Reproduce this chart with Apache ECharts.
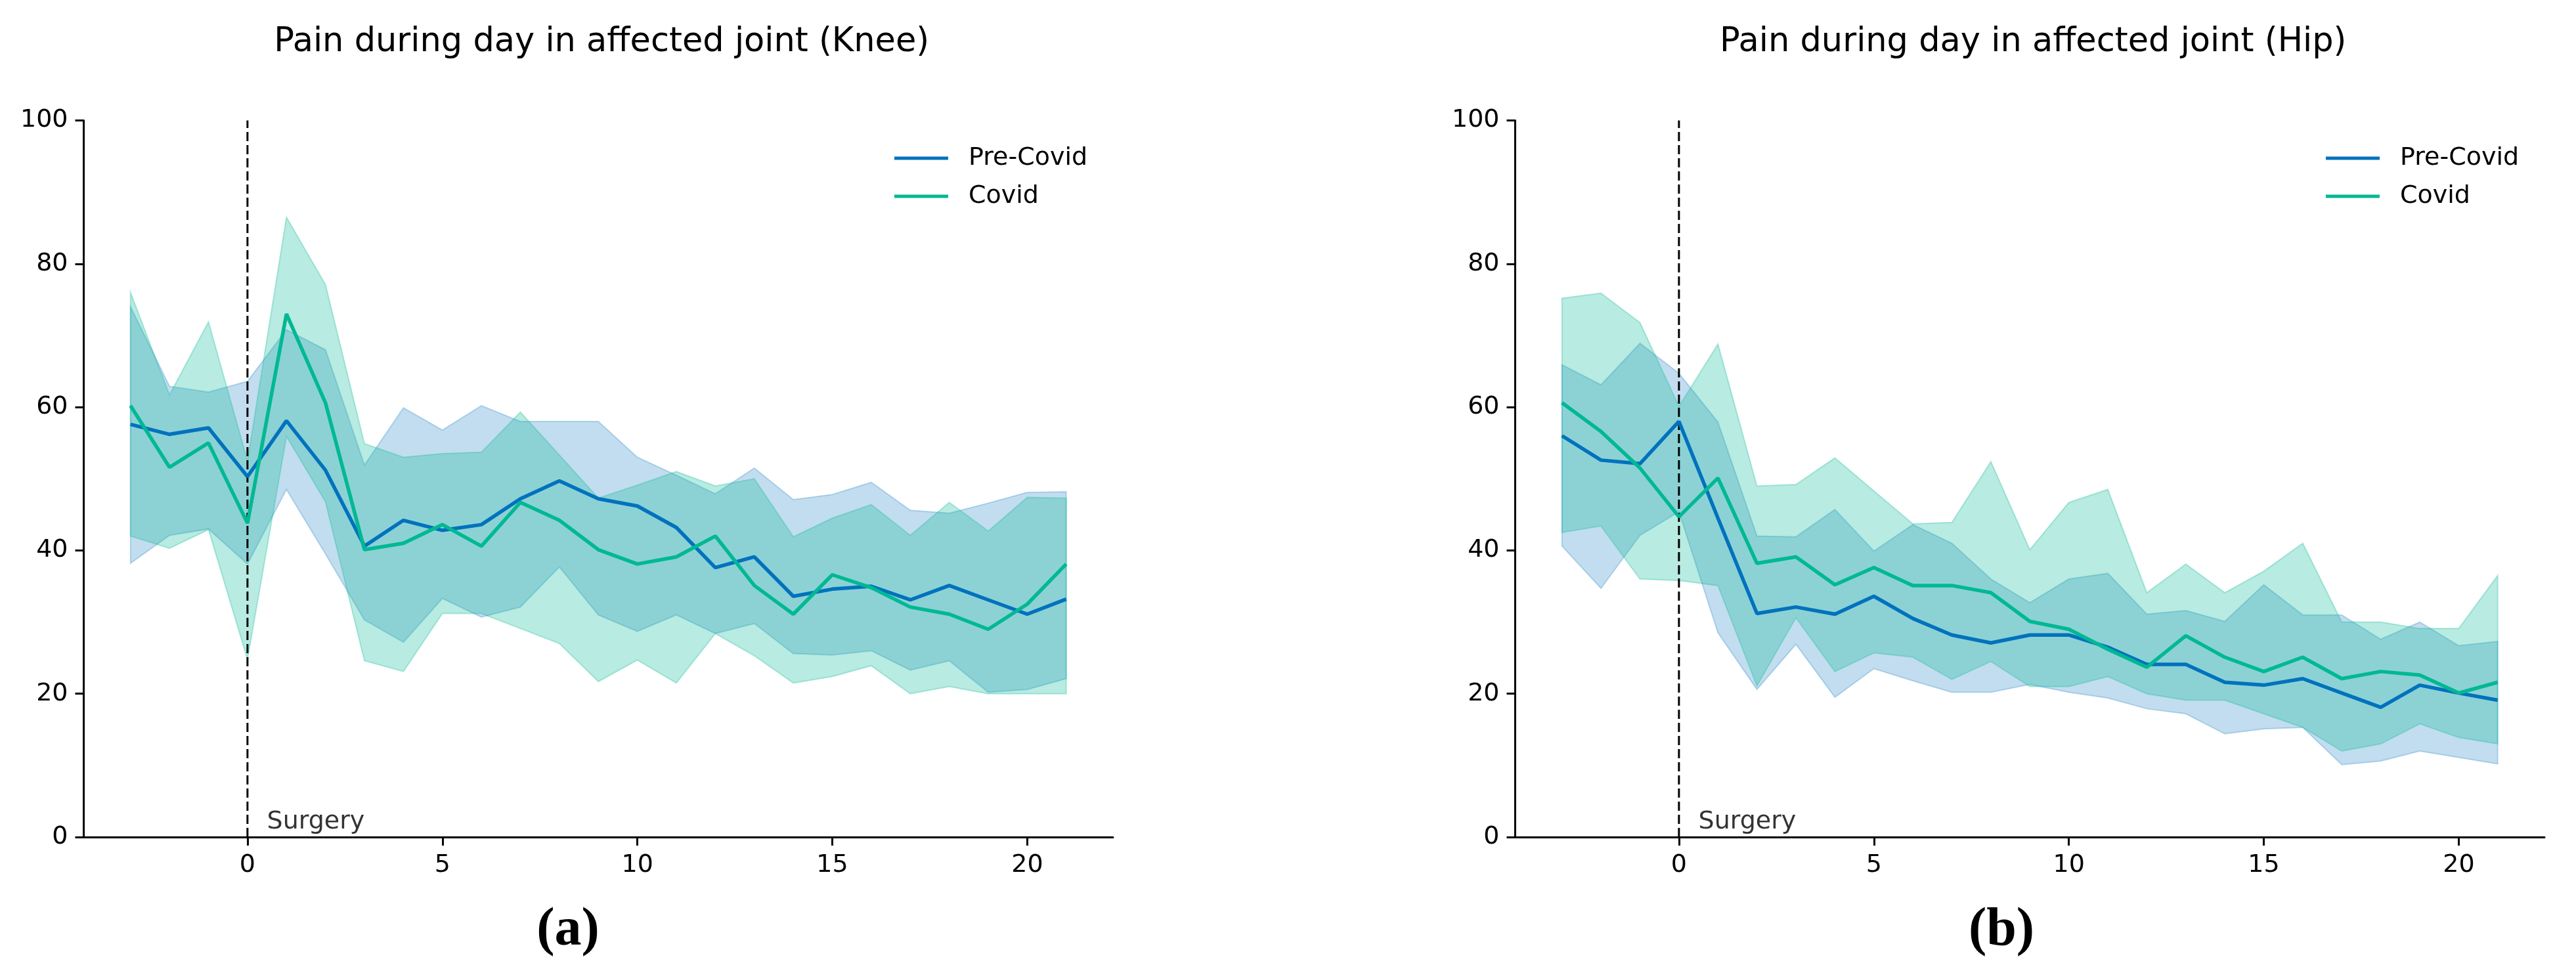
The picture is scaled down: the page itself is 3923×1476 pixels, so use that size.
<!DOCTYPE html>
<html>
<head>
<meta charset="utf-8">
<script src="https://cdn.jsdelivr.net/npm/echarts@6/dist/echarts.min.js"></script>
<style>
  html, body { margin: 0; padding: 0; background: #fff; }
  #chart { width: 3923px; height: 1476px; }
</style>
</head>
<body>
<div id="chart"></div>
<script>
// ---------- data ----------
const days = [-3,-2,-1,0,1,2,3,4,5,6,7,8,9,10,11,12,13,14,15,16,17,18,19,20,21];
const xTicks = [0, 5, 10, 15, 20];
const yTicks = [0, 20, 40, 60, 80, 100];
const seriesNames = ['Pre-Covid', 'Covid'];
const titles = ['Pain during day in affected joint (Knee)', 'Pain during day in affected joint (Hip)'];
const panelLabels = ['(a)', '(b)'];
const surgeryLabel = 'Surgery';
const surgeryDay = 0;

// Knee
const kneePreMean = [57.6,56.2,57.1,50.3,58.1,51.2,40.6,44.2,42.8,43.6,47.2,49.7,47.2,46.2,43.2,37.6,39.1,33.6,34.6,35.0,33.1,35.1,33.1,31.1,33.2];
const kneePreHigh = [74.0,62.9,62.1,63.6,70.8,68.0,51.9,59.9,56.8,60.2,58.0,58.0,58.0,53.0,50.5,47.9,51.5,47.1,47.8,49.5,45.6,45.2,46.6,48.1,48.2];
const kneePreLow  = [38.2,42.1,43.0,38.1,48.5,39.5,30.3,27.2,33.3,30.7,32.1,37.7,31.0,28.7,31.0,28.4,29.8,25.6,25.4,26.0,23.3,24.6,20.2,20.6,22.1];
const kneeCovMean = [60.2,51.6,55.0,43.8,73.0,60.6,40.1,41.0,43.6,40.6,46.7,44.2,40.1,38.1,39.1,42.0,35.1,31.1,36.6,34.8,32.1,31.1,29.0,32.5,38.1];
const kneeCovHigh = [76.0,61.7,71.9,52.5,86.5,77.1,54.9,53.0,53.5,53.7,59.3,53.3,47.3,49.1,51.0,49.0,50.0,41.9,44.5,46.4,42.1,46.7,42.7,47.4,47.3];
const kneeCovLow  = [42.0,40.3,42.9,24.8,55.9,46.8,24.6,23.1,31.2,31.2,29.1,27.0,21.7,24.7,21.5,28.4,25.3,21.5,22.4,23.9,20.0,21.0,20.0,20.0,20.0];

// Hip
const hipPreMean = [56.0,52.6,52.1,58.0,44.5,31.2,32.1,31.1,33.6,30.5,28.2,27.1,28.2,28.2,26.5,24.1,24.1,21.6,21.2,22.1,20.1,18.1,21.2,20.1,19.1];
const hipPreHigh = [65.9,63.1,68.9,64.7,57.9,42.0,41.9,45.7,39.9,43.6,41.0,36.0,32.7,36.0,36.8,31.1,31.6,30.1,35.2,31.0,31.0,27.6,30.0,26.7,27.3];
const hipPreLow  = [40.6,34.7,42.1,45.4,28.5,20.6,26.9,19.5,23.5,21.8,20.2,20.2,21.3,20.2,19.4,17.9,17.2,14.4,15.1,15.3,10.1,10.6,12.0,11.1,10.2];
const hipCovMean = [60.6,56.6,51.5,44.7,50.1,38.2,39.1,35.2,37.6,35.1,35.1,34.1,30.1,29.0,26.2,23.7,28.1,25.1,23.1,25.1,22.1,23.1,22.6,20.1,21.6];
const hipCovHigh = [75.2,75.9,71.8,60.1,68.8,49.0,49.2,52.9,48.3,43.7,43.9,52.4,40.1,46.7,48.5,34.1,38.1,34.1,37.1,41.0,30.0,30.0,29.1,29.1,36.5];
const hipCovLow  = [42.5,43.4,36.0,35.8,35.1,21.1,30.6,23.1,25.7,25.1,22.0,24.5,21.0,21.0,22.4,20.0,19.1,19.1,17.2,15.3,12.0,13.0,15.8,13.9,13.0];

// ---------- styling ----------
const FONT = 'DejaVu Sans';
const BLUE = '#0072bd';
const GREEN = '#00b894';
const BLUE_FILL = 'rgba(0,114,189,0.24)';
const GREEN_FILL = 'rgba(0,184,148,0.28)';

const grids = [
  { left: 127.5, top: 183.5, width: 1567.5, height: 1091.5 },
  { left: 2307.5, top: 183.5, width: 1567.5, height: 1091.5 }
];
const panelLabelCenters = [860, 3043];

const panels = [
  { pre: [kneePreMean, kneePreLow, kneePreHigh], cov: [kneeCovMean, kneeCovLow, kneeCovHigh] },
  { pre: [hipPreMean, hipPreLow, hipPreHigh], cov: [hipCovMean, hipCovLow, hipCovHigh] }
];

function pairs(ys) { return days.map((d, i) => [d, ys[i]]); }

function band(g, low, high, fill) {
  return {
    type: 'custom', xAxisIndex: g, yAxisIndex: g, silent: true, z: 1,
    data: [[0, 50]],
    renderItem: function (params, api) {
      const pts = [];
      for (let i = 0; i < days.length; i++) pts.push(api.coord([days[i], high[i]]));
      for (let i = days.length - 1; i >= 0; i--) pts.push(api.coord([days[i], low[i]]));
      return { type: 'polygon', shape: { points: pts }, style: { fill: fill, stroke: fill, lineWidth: 2 } };
    }
  };
}

const axisLine = { show: true, onZero: false, lineStyle: { color: '#000', width: 3 } };
const axisTick = { show: true, inside: false, length: 13, lineStyle: { color: '#000', width: 3 } };
const axisLabel = { color: '#000', fontSize: 38, fontFamily: FONT, margin: 24 };

const xAxes = [], yAxes = [], series = [], legends = [], titleList = [];
grids.forEach((gr, g) => {
  xAxes.push({
    type: 'value', gridIndex: g, min: -4.2, max: 22.2,
    axisLine: axisLine,
    axisTick: Object.assign({}, axisTick, { customValues: xTicks }),
    axisLabel: Object.assign({}, axisLabel, { customValues: xTicks }),
    splitLine: { show: false }
  });
  yAxes.push({
    type: 'value', gridIndex: g, min: yTicks[0], max: yTicks[yTicks.length - 1], interval: 20,
    axisLine: axisLine, axisTick: axisTick, axisLabel: axisLabel,
    splitLine: { show: false }
  });
  const p = panels[g];
  series.push(band(g, p.pre[1], p.pre[2], BLUE_FILL));
  series.push(band(g, p.cov[1], p.cov[2], GREEN_FILL));
  series.push({
    type: 'line', xAxisIndex: g, yAxisIndex: g, z: 4, silent: true,
    data: [[surgeryDay, yTicks[0]], [surgeryDay, yTicks[yTicks.length - 1]]],
    symbol: 'none', showSymbol: false,
    lineStyle: { color: '#000', width: 3, type: [14, 6] }
  });
  series.push({
    name: seriesNames[0], type: 'line', xAxisIndex: g, yAxisIndex: g, z: 5,
    data: pairs(p.pre[0]), symbol: 'none', showSymbol: false,
    lineStyle: { color: BLUE, width: 5.5 }, itemStyle: { color: BLUE }
  });
  series.push({
    name: seriesNames[1], type: 'line', xAxisIndex: g, yAxisIndex: g, z: 5,
    data: pairs(p.cov[0]), symbol: 'none', showSymbol: false,
    lineStyle: { color: GREEN, width: 5.5 }, itemStyle: { color: GREEN }
  });
  series.push({
    type: 'scatter', xAxisIndex: g, yAxisIndex: g, silent: true, z: 6,
    data: [[0.5, 2.1]], symbolSize: 0,
    label: { show: true, formatter: surgeryLabel, position: 'right', distance: 0,
             color: '#000', fontSize: 38, fontFamily: FONT }
  });
  legends.push({
    data: seriesNames, orient: 'vertical',
    left: gr.left + 1229.5, top: 216,
    icon: 'rect', itemWidth: 82, itemHeight: 5, itemGap: 18,
    textStyle: { fontSize: 38, fontFamily: FONT, color: '#000', padding: [0, 0, 0, 26], lineHeight: 40 }
  });
  titleList.push({
    text: titles[g], left: gr.left + gr.width / 2, top: 34, textAlign: 'center',
    textStyle: { fontSize: 51, fontFamily: FONT, fontWeight: 'normal', color: '#000' }
  });
  titleList.push({
    text: panelLabels[g], left: panelLabelCenters[g], top: 1372, textAlign: 'center',
    textStyle: { fontSize: 82, fontFamily: 'Liberation Serif', fontWeight: 'bold', color: '#000' }
  });
});

const chart = echarts.init(document.getElementById('chart'), null, { renderer: 'canvas' });
chart.setOption({
  animation: false,
  backgroundColor: '#fff',
  title: titleList,
  legend: legends,
  grid: grids,
  xAxis: xAxes,
  yAxis: yAxes,
  series: series
});
</script>
</body>
</html>
